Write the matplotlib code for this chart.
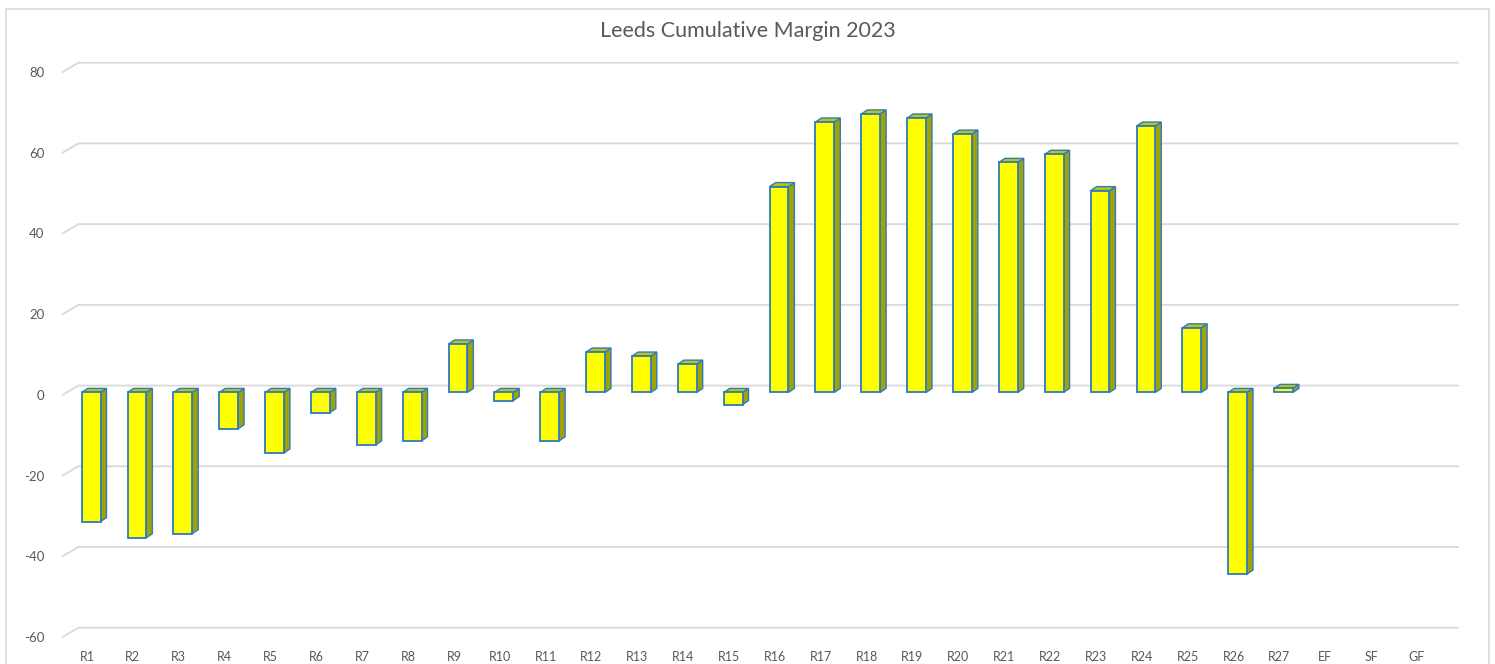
import numpy as np
from matplotlib import pyplot as plt
from matplotlib.patches import Polygon, Rectangle

# chart data
rounds = ["R1", "R2", "R3", "R4", "R5", "R6", "R7", "R8", "R9", "R10",
          "R11", "R12", "R13", "R14", "R15", "R16", "R17", "R18", "R19", "R20",
          "R21", "R22", "R23", "R24", "R25", "R26", "R27", "EF", "SF", "GF"]
margins = [-32, -36, -35, -9, -15, -5, -13, -12, 12, -2,
           -12, 10, 9, 7, -3, 51, 67, 69, 68, 64,
           57, 59, 50, 66, 16, -45, 1]
y_ticks = [-60, -40, -20, 0, 20, 40, 60, 80]

TEXT = "#595959"
GRID = "#D9D9D9"
FRONT = "#FFFF00"
SIDE = "#A3A300"
TOP = "#C4C400"
EDGE = "#2C7BC4"

# fake 3d offsets (data units)
BAR_SHIFT, BAR_LIFT, BAR_W = 0.09, 0.6, 0.41
DEPTH_X, DEPTH_Y = 0.13, 1.0
BACK_X, BACK_Y = 0.34, 2.3
X_MIN, X_MAX = -0.53, 29.895

plt.rcParams['font.family'] = ['Lato', 'DejaVu Sans']
plt.rcParams['axes.unicode_minus'] = False

fig = plt.figure(figsize=(14.95, 6.64), dpi=100)
fig.add_artist(Rectangle((6 / 1495, -0.05), 1483 / 1495, 1 - 9 / 664 + 0.05,
                         transform=fig.transFigure, fill=False, edgecolor=GRID, lw=1.2))
ax = fig.add_axes([62.7 / 1495, 27 / 664, (1458 - 62.7) / 1495, 565 / 664])
ax.set_xlim(X_MIN, X_MAX)
ax.set_ylim(-60, 80)
for s in ax.spines.values():
    s.set_visible(False)

# back wall gridlines with the little diagonal to the front
for v in y_ticks:
    ax.plot([X_MIN, X_MIN + BACK_X, X_MAX], [v, v + BACK_Y, v + BACK_Y],
            color=GRID, lw=1.3, clip_on=False, zorder=0)

x = np.arange(len(margins))
vals = np.array(margins, dtype=float)
ax.bar(x + BAR_SHIFT, vals, width=BAR_W, bottom=BAR_LIFT, color=FRONT,
       edgecolor=EDGE, lw=1.3, zorder=3)
for xi, v in zip(x, vals):
    xl = xi + BAR_SHIFT - BAR_W / 2
    xr = xi + BAR_SHIFT + BAR_W / 2
    lo, hi = min(0, v) + BAR_LIFT, max(0, v) + BAR_LIFT
    side = [(xr, lo), (xr + DEPTH_X, lo + DEPTH_Y), (xr + DEPTH_X, hi + DEPTH_Y), (xr, hi)]
    top = [(xl, hi), (xl + DEPTH_X, hi + DEPTH_Y), (xr + DEPTH_X, hi + DEPTH_Y), (xr, hi)]
    ax.add_patch(Polygon(side, closed=True, facecolor=SIDE, edgecolor=EDGE, lw=1.0, zorder=2))
    ax.add_patch(Polygon(top, closed=True, facecolor=TOP, edgecolor=EDGE, lw=1.0, zorder=2))

ax.set_xticks(np.arange(len(rounds)))
ax.set_xticklabels(rounds)
ax.set_yticks(y_ticks)
ax.tick_params(axis='x', length=0, pad=10, labelsize=9, labelcolor=TEXT)
ax.tick_params(axis='y', length=0, pad=13, labelsize=9.5, labelcolor=TEXT)

fig.text(0.5, 1 - 31 / 664, "Leeds Cumulative Margin 2023", ha='center', va='center',
         fontsize=15.5, color=TEXT)

fig.savefig("out.png", dpi=100, facecolor="white")
